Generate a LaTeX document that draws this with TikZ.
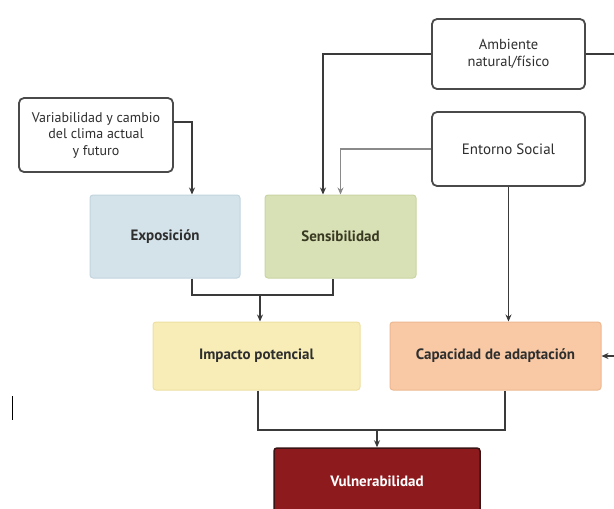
\documentclass[tikz,border=0pt]{standalone}
\usepackage{fontspec}
\setmainfont{PT Sans}
\usetikzlibrary{arrows.meta}
\definecolor{bordergray}{HTML}{4A4A4A}
\definecolor{linegray}{HTML}{3A3A3A}
\definecolor{lightline}{HTML}{8A8A8A}
\definecolor{txtgray}{HTML}{2E2E2E}
\definecolor{sentxt}{HTML}{3A3A22}
\definecolor{expfill}{HTML}{D4E2E9}
\definecolor{expdraw}{HTML}{C3D5DF}
\definecolor{senfill}{HTML}{D8E1B6}
\definecolor{sendraw}{HTML}{C9D4A3}
\definecolor{impfill}{HTML}{F8EDB6}
\definecolor{impdraw}{HTML}{EDE0A2}
\definecolor{capfill}{HTML}{F9C9A5}
\definecolor{capdraw}{HTML}{EDB892}
\definecolor{vulfill}{HTML}{8D1A1D}
\definecolor{vuldraw}{HTML}{3A1414}
\tikzset{
  whitebox/.style={draw=bordergray, line width=1.8pt, fill=white, rounded corners=5pt,
    align=center, text=txtgray, font=\fontsize{14}{16.5}\selectfont, inner sep=2pt},
  colorbox/.style={line width=1pt, rounded corners=3pt, align=center, text=txtgray,
    font=\fontsize{15}{18}\selectfont\bfseries, inner sep=2pt},
  conn/.style={draw=linegray, line width=1.2pt},
  arr/.style={conn, -{Stealth[length=7pt,width=6pt]}},
  lightarr/.style={draw=lightline, line width=1.2pt, -{Stealth[length=7pt,width=6pt]}}
}
\begin{document}
\begin{tikzpicture}[x=1pt,y=-1pt]
\clip (0,0) rectangle (614,509);
\fill[white] (0,0) rectangle (614,509);
% white boxes
\node[whitebox, font=\fontsize{14.5}{17}\selectfont, minimum width=153pt, minimum height=70pt] (amb) at (508.5,54) {Ambiente\\natural/físico};
\node[whitebox, font=\fontsize{15}{18}\selectfont, minimum width=153pt, minimum height=74pt] (ent) at (508.5,149) {Entorno Social};
\node[whitebox, minimum width=154pt, minimum height=74pt] (var) at (96,135) {Variabilidad y cambio\\del clima actual\\y futuro};
% coloured boxes
\node[colorbox, fill=expfill, draw=expdraw, minimum width=150pt, minimum height=83pt] (exp) at (165,236.5) {Exposición};
\node[colorbox, fill=senfill, draw=sendraw, text=sentxt, minimum width=151pt, minimum height=83pt] (sen) at (340.5,236.5) {Sensibilidad};
\node[colorbox, fill=impfill, draw=impdraw, minimum width=207pt, minimum height=68pt] (imp) at (256.5,356) {Impacto potencial};
\node[colorbox, fill=capfill, draw=capdraw, minimum width=211pt, minimum height=68pt] (cap) at (495.5,356) {Capacidad de adaptación};
\node[colorbox, fill=vulfill, draw=vuldraw, line width=1.5pt, text=white, minimum width=206pt, minimum height=66pt] (vul) at (377,481) {Vulnerabilidad};
% free ends
\coordinate (ambR) at (614,54);
\coordinate (capR) at (614,356);
\coordinate (j1) at (260,295);
\coordinate (j2) at (377,430);
% connectors
\draw[conn] (amb.east) -- (ambR);
\draw[arr] (amb.west) -| ([xshift=-17.5pt]sen.north);
\draw[lightarr] (ent.west) -| (sen.north);
\draw[arr] ([yshift=13pt]var.east) -| ([xshift=27pt]exp.north);
\draw[arr] (ent.south) -- (ent.south |- cap.north);
\draw[conn] ([xshift=27pt]exp.south) |- (j1) -| ([xshift=-7.5pt]sen.south);
\draw[arr] (j1) -- (j1 |- imp.north);
\draw[conn] ([xshift=1.5pt]imp.south) |- (j2) -| ([xshift=9.5pt]cap.south);
\draw[arr] (j2) -- (vul.north);
\draw[arr] (capR) -- (cap.east);
% cursor mark
\draw[black, line width=0.8pt] (12,396) -- (12,420);
\end{tikzpicture}
\end{document}
